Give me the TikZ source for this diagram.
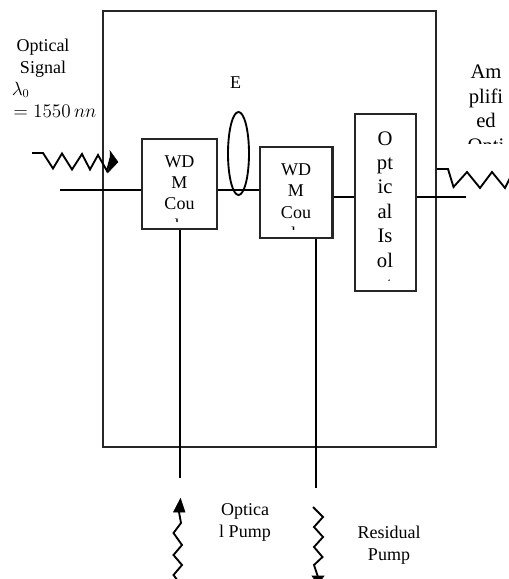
\documentclass[tikz,border=0pt]{standalone}
\usepackage{fontspec}
\usetikzlibrary{shapes.geometric}
\setmainfont{Liberation Serif}
\tikzset{
  wire/.style={line width=1.6pt,black},
  wave/.style={line width=1.4pt,black,line join=miter},
  head/.style={fill=black,draw=black,line width=0.4pt},
  blockbox/.style={draw=black!85,line width=1.6pt,minimum width=0pt,inner sep=0pt},
  lbl/.style={inner sep=0pt,outer sep=0pt,align=center,anchor=base,font=\fontsize{13.5}{16}\selectfont},
  tall/.style={lbl,font=\fontsize{15.5}{18.3}\selectfont}
}
\begin{document}
\begin{tikzpicture}[x=0.75pt,y=-0.75pt]
\useasboundingbox (0,0) rectangle (509,579);
\clip (0,0) rectangle (509,579);
% enclosure
\node[blockbox,minimum width=249.75pt,minimum height=327pt] (frame) at (269.5,229) {};
% blocks
\node[blockbox,minimum width=56.25pt,minimum height=67.5pt] (wa) at (179.5,184) {};
\node[blockbox,minimum width=54.4pt,minimum height=68.25pt] (wb) at (296.25,192.5) {};
\node[blockbox,minimum width=45.75pt,minimum height=132.75pt] (iso) at (385.5,202.5) {};
\node[draw=black,line width=1.4pt,ellipse,minimum width=15.75pt,minimum height=62.25pt,inner sep=0pt] (lens) at (238.5,153.5) {};
% free ends
\coordinate (inL) at (60,190);
\coordinate (outR) at (466,197);
\coordinate (pumpEnd) at (180,478);
\coordinate (resEnd) at (316,488);
% connectors
\draw[wire] (inL) -- (inL -| wa.west);
\draw[wire] (wa.east |- inL) -- (wb.west |- inL);
\draw[wire] (wb.east |- outR) -- (iso.west |- outR);
\draw[wire] (iso.east |- outR) -- (outR);
\draw[wire] (wa.south -| pumpEnd) -- (pumpEnd);
\draw[wire] (wb.south -| resEnd) -- (resEnd);
% input wave
\draw[wave] (32,153) -- (43,153) -- (53,168.5) -- (62,153.5) -- (72,169.5) -- (82,154) -- (90,169.5) -- (98,155) -- (107,171) -- (111,156);
\fill[head] (110,151) -- (118,162) -- (108,172.5) -- (110.5,161) -- cycle;
% output wave
\draw[wave] (frame.east |- 0,169) -- (448,169) -- (453.5,187) -- (467,172) -- (480,188) -- (492,172) -- (505,188) -- (510,178);
% pump wave
\draw[wave] (179,512) -- (181,523) -- (173.5,533) -- (182,545) -- (173.5,555) -- (182,565) -- (173.5,575) -- (178,581);
\fill[head] (180.5,498.5) -- (185,512) -- (173.5,512) -- cycle;
% residual wave
\draw[wave] (313,507) -- (323,517) -- (314,527) -- (323,537) -- (314,547) -- (322.5,557) -- (314,565) -- (318,577);
\fill[head] (312,576) -- (324,576) -- (318,584) -- cycle;
% labels
\node[lbl] (sig) at (43,73) {Optical\\Signal};
\node[inner sep=0pt,anchor=base west] (lam) at (11.5,95) {\fontsize{13.5}{16}\selectfont$\lambda_0$};
\node[inner sep=0pt,anchor=base west] (wl) at (13,117) {\fontsize{13.5}{16}\selectfont$=1550\,nn$};
\node[lbl] (e) at (235.5,88) {E};
\begin{scope}
\clip (145,145) rectangle (214,221);
\node[lbl] (ta) at (179.5,231) {WD\\M\\Cou\\pler};
\end{scope}
\begin{scope}
\clip (262,152) rectangle (330,229.5);
\node[lbl] (tb) at (296,239.5) {WD\\M\\Cou\\pler};
\end{scope}
\begin{scope}
\clip (358,118) rectangle (413,280);
\node[tall] (ti) at (385,291.5) {O\\pt\\ic\\al\\Is\\ol\\at};
\end{scope}
\begin{scope}
\clip (440,60) rectangle (509,143);
\node[tall] (tr) at (486,152) {Am\\plifi\\ed\\Opti};
\end{scope}
\node[lbl] (tp) at (245,537) {Optica\\l Pump};
\node[lbl] (tq) at (389,560) {Residual\\Pump};
\end{tikzpicture}
\end{document}
